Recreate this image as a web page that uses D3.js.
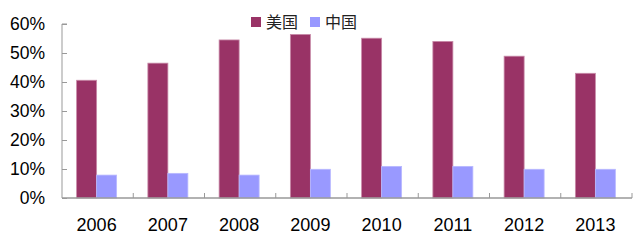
<!DOCTYPE html>
<html>
<head>
<meta charset="utf-8">
<script src="https://cdn.jsdelivr.net/npm/d3@7"></script>
<style>
  html, body { margin: 0; padding: 0; background: #fff; }
  svg { display: block; }
</style>
</head>
<body>
<div id="chart"></div>
<script>
// データ
const years = ['2006', '2007', '2008', '2009', '2010', '2011', '2012', '2013'];
const seriesNames = ['美国', '中国'];
const usValues = [40.6, 46.5, 54.5, 56.4, 55.1, 54.0, 48.9, 43.0];
const cnValues = [7.9, 8.5, 7.9, 9.9, 10.9, 10.9, 9.9, 9.9];
const yTicks = [0, 10, 20, 30, 40, 50, 60];

const colors = ['#993366', '#9999ff'];
const edges = ['#c88aa8', '#b8b8ff'];

const width = 640, height = 250;
const margin = { top: 24, right: 8, bottom: 52, left: 62 };

const svg = d3.select('#chart').append('svg')
  .attr('width', width)
  .attr('height', height);

const x = d3.scaleBand()
  .domain(years)
  .range([margin.left, width - margin.right]);

const y = d3.scaleLinear()
  .domain([0, 60])
  .range([height - margin.bottom, margin.top]);

const barW = 20;
const groupOffset = (x.bandwidth() - barW * 2) / 2 - 1;

const rows = years.map((yr, i) => ({ year: yr, values: [usValues[i], cnValues[i]] }));

// bars
const groups = svg.selectAll('.grp')
  .data(rows)
  .enter()
  .append('g')
  .attr('class', 'grp')
  .attr('transform', d => `translate(${x(d.year) + groupOffset}, 0)`);

groups.selectAll('rect')
  .data(d => d.values)
  .enter()
  .append('rect')
  .attr('x', (d, i) => i * barW)
  .attr('y', d => y(d))
  .attr('width', barW)
  .attr('height', d => y(0) - y(d))
  .attr('fill', (d, i) => colors[i])
  .attr('stroke', (d, i) => edges[i])
  .attr('stroke-width', 0.8);

const axisColor = '#999999';

// y axis
const yAxis = svg.append('g')
  .attr('transform', `translate(${margin.left}, 0)`)
  .call(d3.axisRight(y).tickValues(yTicks).tickSize(5).tickFormat(''));
yAxis.selectAll('line, path').attr('stroke', axisColor);
yAxis.select('.domain').attr('d', `M5,${y(60)}H0V${y(0)}`);

svg.append('g')
  .selectAll('text')
  .data(yTicks)
  .enter()
  .append('text')
  .attr('x', 45)
  .attr('y', d => y(d))
  .attr('dy', '0.36em')
  .attr('text-anchor', 'end')
  .attr('font-family', 'Liberation Sans, Arial, sans-serif')
  .attr('font-size', 17.5)
  .attr('fill', '#000')
  .text(d => d + '%');

// x axis
const xBottom = y(0);
const bounds = years.map(yr => x(yr) + x.bandwidth());
const xAxis = svg.append('g');
xAxis.append('line')
  .attr('x1', margin.left).attr('x2', width - margin.right)
  .attr('y1', xBottom).attr('y2', xBottom)
  .attr('stroke', axisColor).attr('stroke-width', 1.5);
xAxis.selectAll('.tk')
  .data(bounds)
  .enter()
  .append('line')
  .attr('x1', d => d).attr('x2', d => d)
  .attr('y1', xBottom).attr('y2', xBottom - 5)
  .attr('stroke', axisColor);

svg.append('g')
  .selectAll('text')
  .data(years)
  .enter()
  .append('text')
  .attr('x', d => x(d) + x.bandwidth() / 2 - 1)
  .attr('y', 231)
  .attr('text-anchor', 'middle')
  .attr('font-family', 'Liberation Sans, Arial, sans-serif')
  .attr('font-size', 18)
  .attr('fill', '#000')
  .text(d => d);

// legend
const legendX = [251, 310];
const legend = svg.selectAll('.lg')
  .data(seriesNames)
  .enter()
  .append('g')
  .attr('class', 'lg')
  .attr('transform', (d, i) => `translate(${legendX[i]}, 17)`);
legend.append('rect')
  .attr('width', 10).attr('height', 10)
  .attr('fill', (d, i) => colors[i]);
legend.append('text')
  .attr('x', 15)
  .attr('y', 5)
  .attr('dy', '0.38em')
  .attr('font-family', 'Noto Sans CJK SC, sans-serif')
  .attr('font-size', 16)
  .attr('fill', '#222')
  .text(d => d);
</script>
</body>
</html>
